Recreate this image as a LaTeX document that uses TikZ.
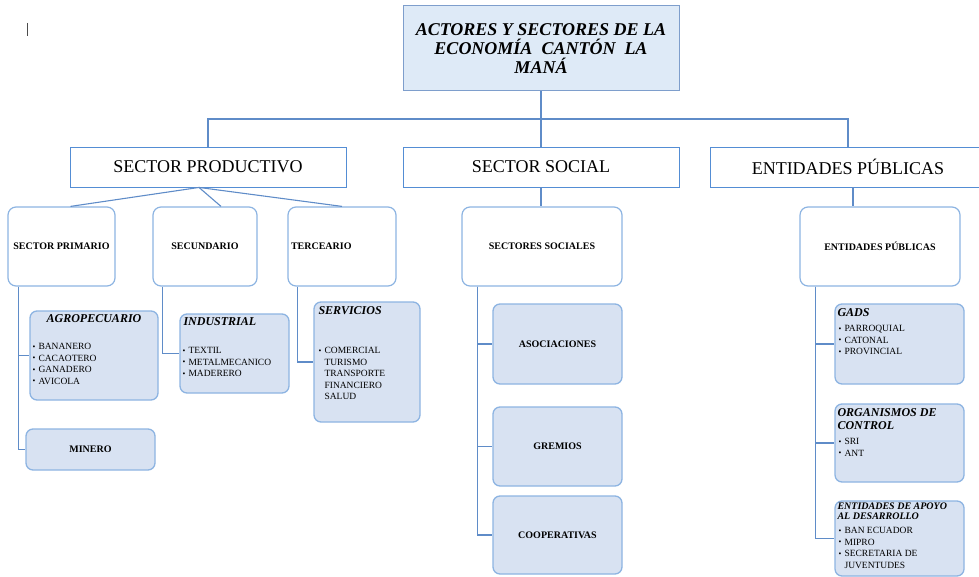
\documentclass[tikz,border=0pt]{standalone}
\usepackage{fontspec}
\setmainfont{Liberation Serif}
\usepackage{tikz}

\definecolor{titlefill}{RGB}{222,234,247}
\definecolor{titleline}{RGB}{126,158,204}
\definecolor{boxline}{RGB}{84,141,212}
\definecolor{linkline}{RGB}{95,140,200}
\definecolor{softline}{RGB}{141,180,226}
\definecolor{softfill}{RGB}{216,226,242}

\newcommand{\bul}{\makebox[6pt][l]{\raisebox{0.1ex}{\fontsize{8}{8}\selectfont\textbullet}}}

\tikzset{
  titlebox/.style={draw=titleline, fill=titlefill, line width=1pt, minimum width=276, minimum height=85,
    align=center, inner sep=0, font=\fontsize{18}{19}\selectfont\bfseries\itshape},
  sectorbox/.style={draw=boxline, fill=white, line width=0.9pt, minimum width=276, minimum height=40,
    inner sep=0, font=\fontsize{18}{20}\selectfont},
  groupbox/.style={draw=softline, fill=white, line width=1.2pt, rounded corners=8, minimum height=79,
    inner sep=3pt, font=\fontsize{10}{12}\selectfont\bfseries},
  leafbox/.style={draw=softline, fill=softfill, line width=1.3pt, rounded corners=7,
    inner sep=0, font=\fontsize{10}{12}\selectfont\bfseries},
  leafhead/.style={inner sep=0, align=left, font=\fontsize{12}{13}\selectfont\bfseries\itshape},
  leaflist/.style={anchor=north west, inner sep=0, align=left, font=\fontsize{9.5}{11.5}\selectfont},
  link/.style={draw=linkline, line width=1.1pt}
}

\begin{document}
\begin{tikzpicture}[x=1pt,y=-1pt]
\useasboundingbox (0,0) rectangle (979,577);

% cursor mark
\draw[gray!60!black, line width=1.3pt] (27.5,23) -- (27.5,36);

% top level
\node[titlebox] (title) at (541,48.5) {ACTORES Y SECTORES DE LA\\ECONOMÍA\ \ CANTÓN\ \ LA\\MANÁ};

\node[sectorbox] (prod) at (208,167) {SECTOR PRODUCTIVO};
\node[sectorbox] (social) at (541,167) {SECTOR SOCIAL};
\node[sectorbox] (pub) at (848,167) {ENTIDADES PÚBLICAS};

\coordinate (bus) at (541,119);
\draw[link] (title.south) -- (social.north);
\draw[link] (prod.north) |- (bus) -| (pub.north);

% second level
\node[groupbox, minimum width=107] (prim) at (61.5,246.5) {SECTOR PRIMARIO};
\node[groupbox, minimum width=104] (secu) at (205,246.5) {SECUNDARIO};
\node[groupbox, minimum width=108, text width=102, align=left] (terc) at (342,246.5) {TERCEARIO};
\node[groupbox, minimum width=160] (socs) at (542,246.5) {SECTORES SOCIALES};
\node[groupbox, minimum width=160] (ents) at (880,246.5) {ENTIDADES PÚBLICAS};

\coordinate (fork) at ([xshift=-9]prod.south);
\draw[link] (fork) -- ([xshift=9]prim.north);
\draw[link] (fork) -- ([xshift=16]secu.north);
\draw[link] (fork) -- (terc.north);
\draw[link] (social.south) -- (social.south |- socs.north);
\draw[link] ([xshift=5]pub.south) -- ([xshift=5]pub.south |- ents.north);

% sector productivo
\node[leafbox, minimum width=128, minimum height=89] (agro) at (94,355.5) {};
\node[leafhead] (agrohead) at ([shift={(0,8)}]agro.north) {AGROPECUARIO};
\node[leaflist] (agrolist) at ([shift={(3,32.8)}]agro.north west)
  {\bul BANANERO\\\bul CACAOTERO\\\bul GANADERO\\\bul AVICOLA};
\node[leafbox, minimum width=129, minimum height=41] (minero) at (90.5,449.5) {MINERO};

\node[leafbox, minimum width=109, minimum height=79] (indus) at (234.5,353.5) {};
\node[leafhead, anchor=west] (indushead) at ([shift={(4,8)}]indus.north west) {INDUSTRIAL};
\node[leaflist] (induslist) at ([shift={(3,33.8)}]indus.north west)
  {\bul TEXTIL\\\bul METALMECANICO\\\bul MADERERO};

\node[leafbox, minimum width=106, minimum height=120] (serv) at (367,362) {};
\node[leafhead, anchor=west] (servhead) at ([shift={(5,9)}]serv.north west) {SERVICIOS};
\node[leaflist] (servlist) at ([shift={(5,45.8)}]serv.north west)
  {\bul COMERCIAL\\\hspace*{6pt}TURISMO\\\hspace*{6pt}TRANSPORTE\\\hspace*{6pt}FINANCIERO\\\hspace*{6pt}SALUD};

\coordinate (primtrunk) at ([xshift=11]prim.south west);
\draw[link] (primtrunk) |- (agro.west);
\draw[link] (primtrunk) |- (minero.west);
\coordinate (secutrunk) at ([xshift=10]secu.south west);
\draw[link] (secutrunk) |- (indus.west);
\coordinate (terctrunk) at ([xshift=10]terc.south west);
\draw[link] (terctrunk) |- (serv.west);

% sector social
\node[leafbox, minimum width=129, minimum height=80] (asoc) at (557.5,344) {ASOCIACIONES};
\node[leafbox, minimum width=129, minimum height=79] (gremios) at (557.5,446.5) {GREMIOS};
\node[leafbox, minimum width=129, minimum height=78] (coop) at (557.5,535) {COOPERATIVAS};

\coordinate (socstrunk) at ([xshift=16]socs.south west);
\draw[link] (socstrunk) |- (asoc.west);
\draw[link] (socstrunk) |- (gremios.west);
\draw[link] (socstrunk) |- (coop.west);

% entidades publicas
\node[leafbox, minimum width=129, minimum height=80] (gads) at (899.5,344) {};
\node[leafhead, anchor=west] (gadshead) at ([shift={(3,9)}]gads.north west) {GADS};
\node[leaflist] (gadslist) at ([shift={(4,21.8)}]gads.north west)
  {\bul PARROQUIAL\\\bul CATONAL\\\bul PROVINCIAL};

\node[leafbox, minimum width=129, minimum height=78] (organ) at (899.5,443) {};
\node[leafhead, anchor=north west] (organhead) at ([shift={(3,5)}]organ.north west) {ORGANISMOS DE\\CONTROL};
\node[leaflist] (organlist) at ([shift={(4,34.8)}]organ.north west)
  {\bul SRI\\\bul ANT};

\node[leafbox, minimum width=129, minimum height=75] (apoyo) at (899.5,538.5) {};
\node[leafhead, anchor=north west, font=\fontsize{10}{10}\selectfont\bfseries\itshape] (apoyohead)
  at ([shift={(3,2.7)}]apoyo.north west) {ENTIDADES DE APOYO\\AL DESARROLLO};
\node[leaflist] (apoyolist) at ([shift={(4,26.8)}]apoyo.north west)
  {\bul BAN ECUADOR\\\bul MIPRO\\\bul SECRETARIA DE\\\hspace*{6pt}JUVENTUDES};

\coordinate (entstrunk) at ([xshift=16]ents.south west);
\draw[link] (entstrunk) |- (gads.west);
\draw[link] (entstrunk) |- (organ.west);
\draw[link] (entstrunk) |- (apoyo.west);
\end{tikzpicture}
\end{document}
